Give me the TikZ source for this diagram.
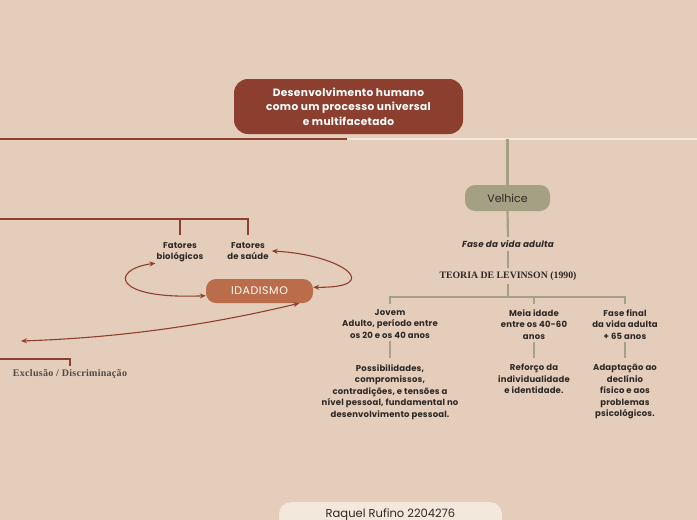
\documentclass[tikz,border=0pt]{standalone}
\usepackage{fontspec}
\setmainfont{Poppins}
\newfontfamily\timesfont{Liberation Serif}
\usetikzlibrary{arrows.meta}

\definecolor{paper}{HTML}{E5CDBB}
\definecolor{brick}{HTML}{8C3F2F}
\definecolor{clay}{HTML}{BB6D4B}
\definecolor{sage}{HTML}{A3A083}
\definecolor{cream}{HTML}{F3E8DC}
\definecolor{ink}{HTML}{2E2926}

\begin{document}
\begin{tikzpicture}[
   x=1pt, y=-1pt,
   every node/.append style={align=center, text=ink},  % <-- support line break
   titlebox/.style={fill=brick, rounded corners=14pt, minimum width=229pt, minimum height=55pt,
                    text=white, font=\bfseries\fontsize{10.6}{14.5}\selectfont\addfontfeature{LetterSpace=3}},
   stagebox/.style={fill=sage, rounded corners=10pt, minimum width=85pt, minimum height=26pt,
                    font=\fontsize{11}{13}\selectfont},
   ageismbox/.style={fill=clay, rounded corners=10pt, minimum width=107pt, minimum height=24pt,
                     text=white, font=\fontsize{11}{12}\selectfont\addfontfeature{LetterSpace=5}},
   leaf/.style={font=\bfseries\fontsize{8.5}{11.5}\selectfont\addfontfeature{LetterSpace=2}, inner sep=1pt},
   brickline/.style={draw=brick, line width=2.2pt},
   sageline/.style={draw=sage, line width=2.2pt},
   idlink/.style={draw=brick, line width=1.1pt,
                  {Stealth[length=6pt,width=5pt]}-{Stealth[length=6pt,width=5pt]}}
]
\useasboundingbox[fill=paper] (0,0) rectangle (697,520);

% main branch
\node[titlebox] (title) at (348.5,106.5) {Desenvolvimento humano\\como um processo universal\\e multifacetado};
\coordinate (westend) at (0,139);
\coordinate (hub) at (347,139);
\coordinate (eastend) at (697,139);
\draw[brickline] (westend) -- (hub);
\draw[cream, line width=2pt] (hub) -- (eastend);

% velhice
\node[stagebox] (velhice) at (507.5,198) {Velhice};
\node[font=\bfseries\itshape\fontsize{8.8}{10}\selectfont\addfontfeature{LetterSpace=2}] (fase) at (508,244) {Fase da vida adulta};
\node[font=\timesfont\bfseries\fontsize{9.8}{11}\selectfont] (levinson) at (508,276) {TEORIA DE LEVINSON (1990)};
\coordinate (fork) at (508,297);
\draw[sageline] (velhice.north |- hub) -- (velhice.north);
\draw[sageline] (velhice.south) -- (fase.north);
\draw[sageline] (fase.south) -- (levinson.north);
\draw[sageline] (levinson.south) -- (fork);

\node[leaf, anchor=north] (jovem) at (390,308) {Jovem\\Adulto, período entre\\os 20 e os 40 anos};
\node[leaf, anchor=north] (meia) at (534,308) {Meia idade\\entre os 40-60\\anos};
\node[leaf, anchor=north] (final) at (625,308) {Fase final\\da vida adulta\\+ 65 anos};
\draw[sageline] (jovem.north) ++(0,-4) |- (fork) -| ([yshift=4pt]final.north);
\draw[sageline] ([yshift=4pt]meia.north) -- (meia.north |- fork);

\node[leaf, anchor=north] (jovemtxt) at (390,363) {Possibilidades,\\compromissos,\\contradições, e tensões a\\nível pessoal, fundamental no\\desenvolvimento pessoal.};
\node[leaf, anchor=north] (meiatxt) at (534,363) {Reforço da\\individualidade\\e identidade.};
\node[leaf, anchor=north] (finaltxt) at (625,363) {Adaptação ao\\declínio\\físico e aos\\problemas\\psicológicos.};
\draw[sageline] (jovem.south) ++(0,2) -- ([yshift=5pt]jovemtxt.north);
\draw[sageline] (meia.south) ++(0,2) -- ([yshift=5pt]meiatxt.north);
\draw[sageline] (final.south) ++(0,2) -- ([yshift=5pt]finaltxt.north);

% idadismo
\coordinate (leftfork) at (0,219);
\node[leaf, anchor=north] (biol) at (180,241) {Fatores\\biológicos};
\node[leaf, anchor=north] (saude) at (248,241) {Fatores\\de saúde};
\draw[brickline] (leftfork) -| ([yshift=6pt]saude.north);
\draw[brickline] ([yshift=6pt]biol.north) -- (biol.north |- leftfork);

\node[ageismbox] (idad) at (259.5,291) {IDADISMO};
\coordinate (offleft) at (21,341);
\draw[idlink] (biol.south west) .. controls +(-45,6) and +(-95,4) .. (idad.185);
\draw[idlink] ([xshift=2pt]saude.east) .. controls +(73,4) and +(71,1) .. (idad.4);
\draw[idlink] (idad.343) .. controls +(-100,24) and +(90,-3) .. (offleft);

\coordinate (exfork) at (0,359);
\node[font=\timesfont\bfseries\fontsize{10}{11}\selectfont\addfontfeature{LetterSpace=3}, text=ink!85, anchor=north] (exclusao) at (70,366) {Exclusão / Discriminação};
\draw[draw=brick, line width=2pt] (exfork) -| (exclusao.north);

% autoria
\node[fill=cream, rounded corners=12pt, minimum width=223pt, anchor=north, inner ysep=0pt,
      text height=15pt, text depth=22pt, font=\fontsize{11.5}{12}\selectfont] (autor) at (390.5,502) {Raquel Rufino 2204276};
\end{tikzpicture}
\end{document}
